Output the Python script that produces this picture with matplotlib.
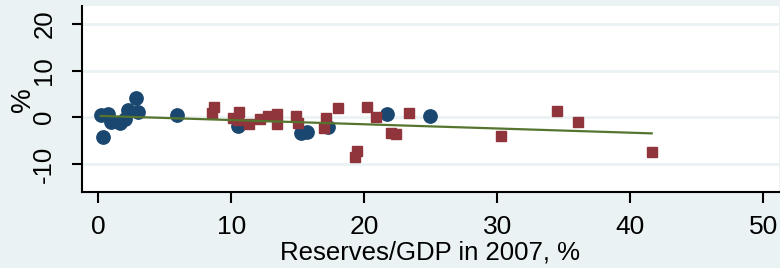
import matplotlib
matplotlib.use("Agg")
import matplotlib.pyplot as plt

# blue circles
circle_x = [0.17, 0.71, 0.96, 1.59, 1.99, 2.22, 2.97, 2.84, 0.34,
            5.92, 10.51, 15.20, 15.65, 17.28, 21.67, 24.92]
circle_y = [0.49, 0.71, -0.95, -1.16, -0.37, 1.57, 1.20, 4.09, -4.17,
            0.43, -1.87, -3.31, -3.16, -2.02, 0.71, 0.34]

# red squares
square_x = [8.72, 8.51, 10.59, 10.14, 10.49, 11.34, 12.14, 12.77, 13.44,
            13.40, 14.83, 15.02, 17.11, 16.98, 18.03, 19.46, 19.29, 20.17,
            20.86, 21.99, 22.35, 23.35, 30.26, 34.45, 36.03, 41.59]
square_y = [2.11, 0.86, 1.20, -0.22, -0.58, -1.50, -0.26, 0.22, 0.65,
            -1.44, 0.28, -1.16, -0.22, -2.24, 1.94, -7.25, -8.60, 2.15,
            0.00, -3.31, -3.66, 0.86, -4.02, 1.35, -0.95, -7.53]

# fitted line end points
fit_x = [0.17, 41.6]
fit_y = [0.30, -3.45]

xticks = [0, 10, 20, 30, 40, 50]
yticks = [-10, 0, 10, 20]

bg = "#eaf2f3"
plt.rcParams['font.family'] = ['Liberation Sans', 'DejaVu Sans']
plt.rcParams['axes.unicode_minus'] = False

fig = plt.figure(figsize=(7.8, 2.68), dpi=100)
fig.patch.set_facecolor(bg)
ax = fig.add_axes([0.1051, 0.2825, 0.8936, 0.6951])
ax.set_facecolor("white")

for yv in yticks:
    ax.axhline(yv, color=bg, lw=2, zorder=0)

ax.plot(circle_x, circle_y, 'o', ms=9.6, color="#1a476f", mec="#1a476f", zorder=2)
ax.plot(square_x, square_y, 's', ms=7.7, color="#90353b", mec="#90353b", zorder=3)
ax.plot(fit_x, fit_y, '-', lw=1.6, color="#55752f", zorder=4)

ax.set_xlim(-1.24, 51.17)
ax.set_ylim(-16.1, 23.9)
ax.set_xticks(xticks)
ax.set_yticks(yticks)

for s in ['top', 'right']:
    ax.spines[s].set_visible(False)
for s in ['left', 'bottom']:
    ax.spines[s].set_linewidth(1.5)

ax.tick_params(axis='x', length=8, width=1.5, pad=8.5, labelsize=19)
ax.tick_params(axis='y', length=7.5, width=1.5, pad=11, labelsize=18.5)
for lbl in ax.get_yticklabels():
    lbl.set_rotation(90)
    lbl.set_va('center')

ax.set_xlabel("Reserves/GDP in 2007, %", fontsize=18.5, labelpad=1)
ax.set_ylabel("%", fontsize=20, labelpad=-3)

fig.savefig("out.png", dpi=100, facecolor=bg)
